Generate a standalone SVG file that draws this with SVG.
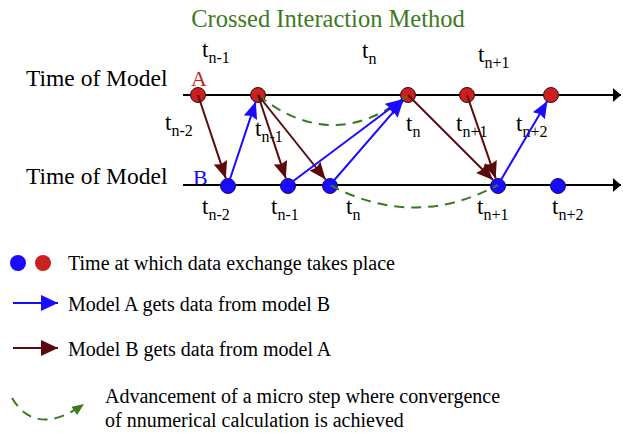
<svg xmlns="http://www.w3.org/2000/svg" width="623" height="433" viewBox="0 0 623 433">
<defs>
<style>
text{font-family:"Liberation Serif","Times New Roman",serif;fill:#000}
.lbl{font-size:23.5px}
.leg{font-size:20px}
.t{font-size:23px}
.sub{font-size:16px}
.axis{stroke:#000;stroke-width:2;fill:none}
.red{fill:#cc1f1f;stroke:#3a0a0a;stroke-width:1}
.blue{fill:#1a0aff;stroke:#10106a;stroke-width:1}
.ab{stroke:#1a0aff;stroke-width:2;fill:none}
.ba{stroke:#5a0a0a;stroke-width:2;fill:none}
.gr{stroke:#3d7a1e;stroke-width:2;fill:none;stroke-dasharray:10 7}
</style>
<marker id="mb" markerUnits="userSpaceOnUse" markerWidth="18" markerHeight="16" refX="17" refY="7" orient="auto"><path d="M0,0 L17,7 L0,14 L2,7 z" fill="#1a0aff"/></marker>
<marker id="mr" markerUnits="userSpaceOnUse" markerWidth="18" markerHeight="16" refX="17" refY="7" orient="auto"><path d="M0,0 L17,7 L0,14 L2,7 z" fill="#5a0a0a"/></marker>
<marker id="lb" markerUnits="userSpaceOnUse" markerWidth="18" markerHeight="18" refX="17" refY="8" orient="auto"><path d="M0,0 L17,8 L0,16 z" fill="#1a0aff"/></marker>
<marker id="lr" markerUnits="userSpaceOnUse" markerWidth="18" markerHeight="18" refX="17" refY="8" orient="auto"><path d="M0,0 L17,8 L0,16 z" fill="#5a0a0a"/></marker>
<marker id="mg" markerUnits="userSpaceOnUse" markerWidth="14" markerHeight="12" refX="12" refY="5" orient="auto"><path d="M0,0 L12,5 L0,10 z" fill="#3d7a1e"/></marker>
<marker id="mk" markerUnits="userSpaceOnUse" markerWidth="10" markerHeight="14" refX="8" refY="7" orient="auto"><path d="M0,0 L8,7 L0,14 z" fill="#000"/></marker>
</defs>
<text x="328" y="27" text-anchor="middle" style="font-size:24.5px;fill:#3d7a1e">Crossed Interaction Method</text>
<g id="axisA">
<text class="lbl" x="26" y="86">Time of Model</text>
<text x="191" y="86" style="font-size:22px;fill:#cc1f1f">A</text>
<path class="axis" d="M183,95 L621,95" marker-end="url(#mk)"/>
</g>
<g id="axisB">
<text class="lbl" x="26" y="184">Time of Model</text>
<text x="193" y="185" style="font-size:22px;fill:#1a0aff">B</text>
<path class="axis" d="M183,185 L621,185" marker-end="url(#mk)"/>
</g>
<g id="labels-top">
<text class="t" x="202" y="57">t<tspan class="sub" dy="6">n-1</tspan></text>
<text class="t" x="362" y="58">t<tspan class="sub" dy="6">n</tspan></text>
<text class="t" x="478" y="62">t<tspan class="sub" dy="6">n+1</tspan></text>
</g>
<g id="labels-mid">
<text class="t" x="165" y="130">t<tspan class="sub" dy="6">n-2</tspan></text>
<text class="t" x="255" y="136">t<tspan class="sub" dy="6">n-1</tspan></text>
<text class="t" x="406" y="131">t<tspan class="sub" dy="6">n</tspan></text>
<text class="t" x="456" y="131">t<tspan class="sub" dy="6">n+1</tspan></text>
<text class="t" x="516" y="131">t<tspan class="sub" dy="6">n+2</tspan></text>
</g>
<g id="labels-bottom">
<text class="t" x="202" y="214">t<tspan class="sub" dy="6">n-2</tspan></text>
<text class="t" x="271" y="214">t<tspan class="sub" dy="6">n-1</tspan></text>
<text class="t" x="346" y="214">t<tspan class="sub" dy="6">n</tspan></text>
<text class="t" x="477" y="214">t<tspan class="sub" dy="6">n+1</tspan></text>
<text class="t" x="552" y="214">t<tspan class="sub" dy="6">n+2</tspan></text>
</g>
<g id="nodesA">
<circle id="a1" class="red" cx="198" cy="95" r="7.5"/>
<circle id="a2" class="red" cx="258" cy="95" r="7.5"/>
<circle id="a3" class="red" cx="408" cy="95" r="7.5"/>
<circle id="a4" class="red" cx="467" cy="95" r="7.5"/>
<circle id="a5" class="red" cx="551" cy="95" r="7.5"/>
</g>
<g id="nodesB">
<circle id="b1" class="blue" cx="228" cy="186" r="7.5"/>
<circle id="b2" class="blue" cx="288" cy="186" r="7.5"/>
<circle id="b3" class="blue" cx="330" cy="186" r="7.5"/>
<circle id="b4" class="blue" cx="498" cy="186" r="7.5"/>
<circle id="b5" class="blue" cx="558" cy="186" r="7.5"/>
</g>
<g id="connectors">
<path class="gr" d="M258,95 Q333,155 408,95"/>
<path class="gr" d="M330,185 Q414,230 498,185"/>
<path class="ba" d="M198,95 L225.8,178.4" marker-end="url(#mr)"/>
<path class="ab" d="M228,185 L255.8,101.6" marker-end="url(#mb)"/>
<path class="ba" d="M258,95 L285.8,178.4" marker-end="url(#mr)"/>
<path class="ba" d="M258,95 L325.6,179.5" marker-end="url(#mr)"/>
<path class="ab" d="M288,185 L402.4,99.2" marker-end="url(#mb)"/>
<path class="ab" d="M330,185 L403.4,100.3" marker-end="url(#mb)"/>
<path class="ba" d="M408,95 L493,180" marker-end="url(#mr)"/>
<path class="ba" d="M467,95 L495.7,178.4" marker-end="url(#mr)"/>
<path class="ab" d="M498,185 L547.4,101" marker-end="url(#mb)"/>
</g>
<g id="legend">
<circle cx="18" cy="263" r="8" fill="#1a0aff"/>
<circle cx="43" cy="263" r="8" fill="#cc1f1f"/>
<text class="leg" x="68" y="270">Time at which data exchange takes place</text>
<path class="ab" d="M13,303 L58,303" marker-end="url(#lb)"/>
<text class="leg" x="68" y="311">Model A gets data from model B</text>
<path class="ba" d="M13,348 L58,348" marker-end="url(#lr)"/>
<text class="leg" x="68" y="356">Model B gets data from model A</text>
<path class="gr" d="M12,398 Q36,438 84,404" marker-end="url(#mg)"/>
<text class="leg" x="105" y="403">Advancement of a micro step where convergence</text>
<text class="leg" x="105" y="427">of nnumerical calculation is achieved</text>
</g>
</svg>
